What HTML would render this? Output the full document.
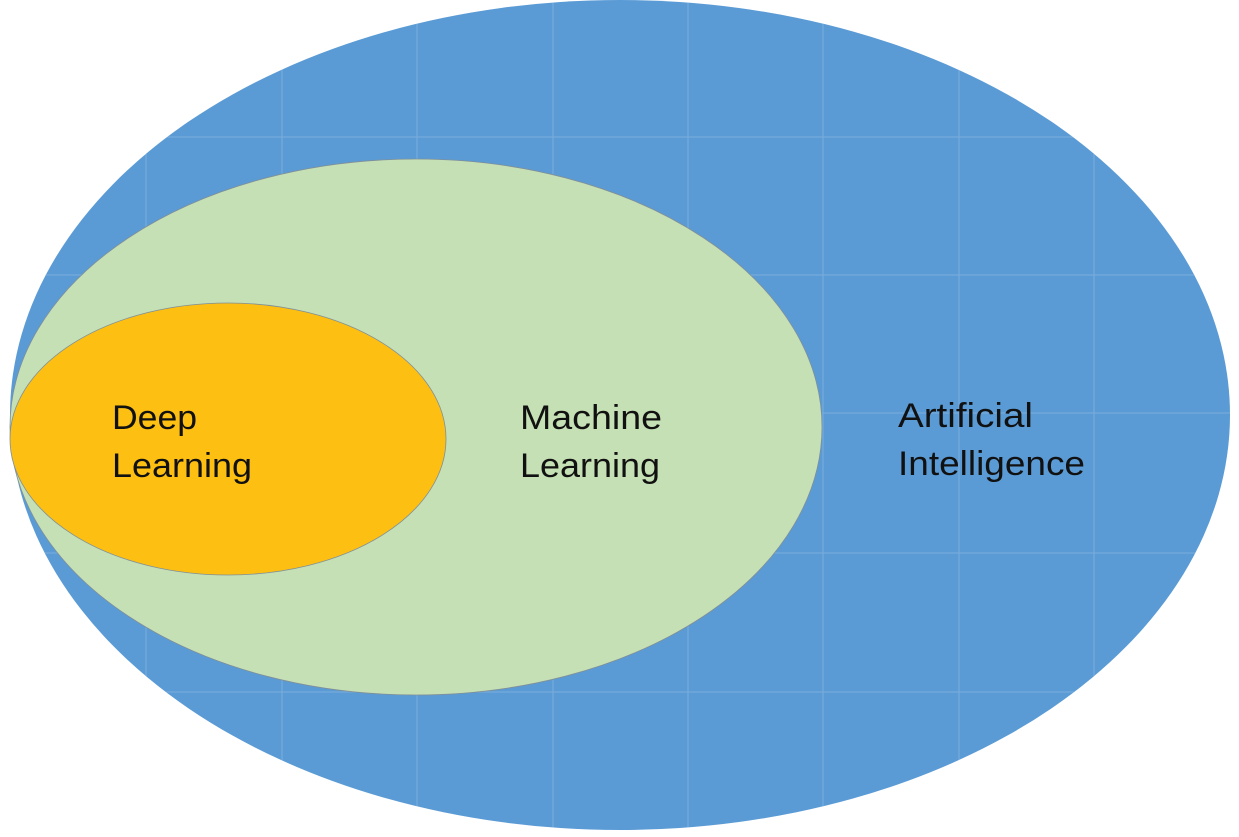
<!DOCTYPE html>
<html>
<head>
<meta charset="utf-8">
<style>
html,body{margin:0;padding:0;background:#fff;}
svg{display:block;}
text{font-family:"Liberation Sans",sans-serif;font-size:34px;fill:#111;}
</style>
</head>
<body>
<svg width="1239" height="837" viewBox="0 0 1239 837" xmlns="http://www.w3.org/2000/svg">
  <defs>
    <clipPath id="c"><ellipse cx="620" cy="415" rx="610" ry="415"/></clipPath>
  </defs>
  <rect width="1239" height="837" fill="#fff"/>
  <ellipse cx="620" cy="415" rx="610" ry="415" fill="#5b9bd5"/>
  <g stroke="#8fbbe3" stroke-width="1" opacity="0.6" clip-path="url(#c)">
    <line x1="146" y1="0" x2="146" y2="837"/>
    <line x1="282" y1="0" x2="282" y2="837"/>
    <line x1="417" y1="0" x2="417" y2="837"/>
    <line x1="553" y1="0" x2="553" y2="837"/>
    <line x1="688" y1="0" x2="688" y2="837"/>
    <line x1="823" y1="0" x2="823" y2="837"/>
    <line x1="959" y1="0" x2="959" y2="837"/>
    <line x1="1094" y1="0" x2="1094" y2="837"/>
    <line x1="0" y1="137" x2="1239" y2="137"/>
    <line x1="0" y1="275" x2="1239" y2="275"/>
    <line x1="0" y1="413" x2="1239" y2="413"/>
    <line x1="0" y1="553" x2="1239" y2="553"/>
    <line x1="0" y1="692" x2="1239" y2="692"/>
  </g>
  <ellipse cx="416" cy="427" rx="406" ry="268" fill="#c5e0b4" stroke="#7f8f99" stroke-width="0.8"/>
  <ellipse cx="228" cy="439" rx="218" ry="136" fill="#fdbf12" stroke="#7f8f99" stroke-width="0.8"/>
  <text x="112" y="429" textLength="85" lengthAdjust="spacingAndGlyphs">Deep</text>
  <text x="112" y="477" textLength="140" lengthAdjust="spacingAndGlyphs">Learning</text>
  <text x="520" y="429" textLength="142" lengthAdjust="spacingAndGlyphs">Machine</text>
  <text x="520" y="477" textLength="140" lengthAdjust="spacingAndGlyphs">Learning</text>
  <text x="898" y="427" textLength="135" lengthAdjust="spacingAndGlyphs">Artificial</text>
  <text x="898" y="475" textLength="187" lengthAdjust="spacingAndGlyphs">Intelligence</text>
</svg>
</body>
</html>
